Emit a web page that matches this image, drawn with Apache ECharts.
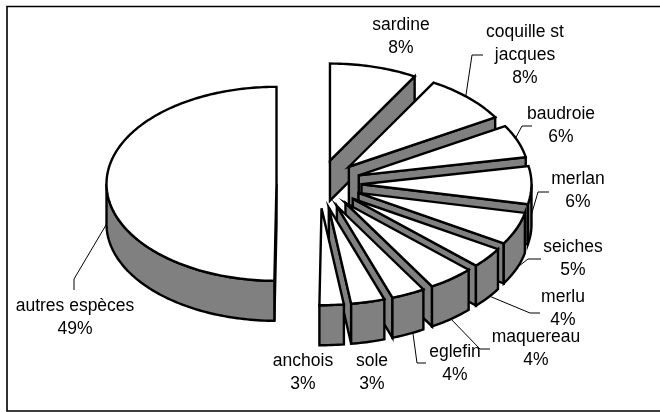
<!DOCTYPE html>
<html><head><meta charset="utf-8">
<style>html,body{margin:0;padding:0;background:#fff}#c{width:660px;height:412px}</style>
<script src="https://cdn.jsdelivr.net/npm/echarts@6/dist/echarts.min.js"></script>
</head><body><div id="c"></div>
<script>
const categories = ['sardine','coquille st\njacques','baudroie','merlan','seiches','merlu','maquereau','eglefin','sole','anchois','autres espèces'];
const percentLabels = ['8%','8%','6%','6%','5%','4%','4%','4%','3%','3%','49%'];
// slice shares (the printed labels are rounded)
const shares = [8.3,8.2,5.5,6.3,5.4,3.4,4.4,3.2,3.2,2.3,49.8];

// Pie geometry (tilted, exploded)
const CX=319, CY=184, RX=170, RY=97, DEPTH=40, EXPLODE=0.25;
const LABEL_FONT='17.5px "Liberation Sans", Arial, sans-serif';
// Label centres
const labelPos=[[401,37],[525,55],[561,126],[578,191],[573,259],[563,309],[536,349],[455,364],[372,373],[303,373],[75,318]];
// Leader lines: start = [fraction along the slice's arc, drop below the top rim]; then elbow and end
const leaderStart=[null,[.46,0],[.4,0],[.48,30],[.45,40],[.41,40],[.51,40],[.35,40],null,null,[.497,40]];
const leaderEnd=[null,[[472,55],[483,55]],[[522,126],[532,126]],[[538,192],[549,192]],[[528,259],[541,259]],[[530,313],[540,313]],[[480,349],[490,349]],[[417,363],[426,363]],null,null,[[74,279],[74,290]]];

const total=shares.reduce((a,b)=>a+b,0);
let cum=0;
const slices=shares.map(v=>{const s=cum/total*2*Math.PI;cum+=v;return {s,e:cum/total*2*Math.PI};});
const pt=(c,t,k=1)=>[c[0]+RX*k*Math.sin(t),c[1]-RY*k*Math.cos(t)];
const down=p=>[p[0],p[1]+DEPTH];

function arc(c,a,b){const n=Math.max(2,Math.ceil(Math.abs(b-a)/0.02));const r=[];for(let i=0;i<=n;i++)r.push(pt(c,a+(b-a)*i/n));return r;}

function renderItem(params,api){
  const i=params.dataIndex,{s,e}=slices[i],m=(s+e)/2;
  const apex=pt([CX,CY],m,EXPLODE);
  const children=[];
  const line={stroke:'#000',lineWidth:2.4,lineJoin:'miter',miterLimit:8};
  const poly=(pts,fill)=>children.push({type:'polygon',shape:{points:pts},style:Object.assign({fill},line)});
  if(Math.sin(e)>0.001){const q=pt(apex,e);poly([apex,q,down(q),down(apex)],'#808080');}
  if(Math.sin(s)<-0.001){const q=pt(apex,s);poly([apex,q,down(q),down(apex)],'#808080');}
  const a=Math.max(s,Math.PI/2),b=Math.min(e,3*Math.PI/2);
  if(b>a){const t=arc(apex,a,b);poly(t.concat(t.slice().reverse().map(down)),'#808080');}
  poly([apex].concat(arc(apex,s,e)),'#fff');
  if(leaderEnd[i]){
    const st=pt(apex,s+(e-s)*leaderStart[i][0]);
    st[1]+=leaderStart[i][1];
    children.push({type:'polyline',shape:{points:[st].concat(leaderEnd[i])},style:{stroke:'#000',lineWidth:1,fill:null},z2:5});
  }
  children.push({type:'text',style:{text:api.value(2)+'',x:labelPos[i][0],y:labelPos[i][1],align:'center',verticalAlign:'middle',font:LABEL_FONT,lineHeight:23,fill:'#000'},z2:10});
  return {type:'group',children};
}

const chart=echarts.init(document.getElementById('c'),null,{renderer:'canvas'});
chart.setOption({
  animation:false,
  graphic:[{type:'rect',shape:{x:7,y:6.5,width:660,height:404.5},style:{fill:'#fff',stroke:'#000',lineWidth:1.6},z:-1}],
  series:[{type:'custom',coordinateSystem:'none',renderItem,silent:true,clip:false,
    data:categories.map((c,i)=>[i,shares[i],c+'\n'+percentLabels[i]])}]
});
</script></body></html>
